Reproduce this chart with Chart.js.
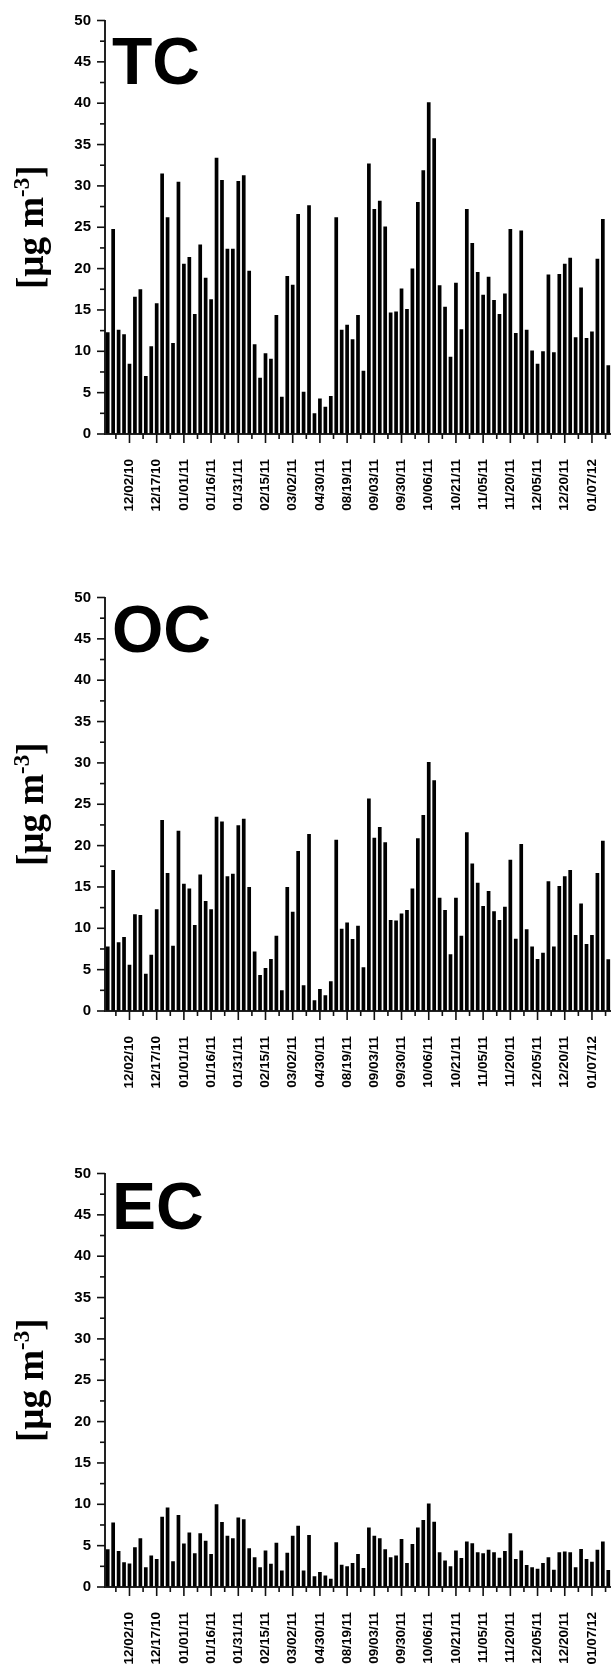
<!DOCTYPE html>
<html><head><meta charset="utf-8">
<script src="https://cdn.jsdelivr.net/npm/chart.js@4.4.0/dist/chart.umd.min.js"></script>
<style>
html,body{margin:0;padding:0;background:#fff;width:611px;height:1668px;overflow:hidden;position:relative;}
canvas{position:absolute;left:0;}
</style></head><body>
<canvas id="c0" width="611" height="577" style="top:0px"></canvas>
<canvas id="c1" width="611" height="577" style="top:577px"></canvas>
<canvas id="c2" width="611" height="515" style="top:1153px"></canvas>
<script>
// x tick labels (every 5th sample)
const tickLabels = ['12/02/10','12/17/10','01/01/11','01/16/11','01/31/11','02/15/11','03/02/11','04/30/11','08/19/11','09/03/11','09/30/11','10/06/11','10/21/11','11/05/11','11/20/11','12/05/11','12/20/11','01/07/12'];

const tcValues = [12.3,24.8,12.6,12.05,8.5,16.6,17.5,7.0,10.6,15.8,31.5,26.2,11.0,30.5,20.6,21.4,14.5,22.9,18.9,16.3,33.4,30.7,22.4,22.4,30.6,31.3,19.75,10.85,6.8,9.75,9.1,14.4,4.5,19.1,18.05,26.6,5.1,27.65,2.5,4.3,3.3,4.6,26.2,12.6,13.2,11.45,14.4,7.66,32.7,27.2,28.2,25.1,14.7,14.8,17.6,15.1,20.0,28.05,31.9,40.1,35.75,18.0,15.4,9.35,18.3,12.66,27.2,23.1,19.6,16.85,19.0,16.2,14.5,17.0,24.8,12.2,24.6,12.6,10.1,8.5,10.0,19.3,9.9,19.35,20.6,21.3,11.7,17.7,11.6,12.4,21.2,26.0,8.3];

const ocValues = [7.8,17.05,8.3,8.95,5.6,11.7,11.6,4.5,6.8,12.3,23.1,16.7,7.9,21.8,15.4,14.8,10.4,16.5,13.3,12.3,23.5,22.9,16.3,16.6,22.45,23.25,15.0,7.2,4.35,5.2,6.3,9.1,2.5,15.0,12.0,19.35,3.1,21.4,1.3,2.66,1.9,3.6,20.7,9.95,10.7,8.7,10.3,5.3,25.7,20.96,22.25,20.4,11.0,10.95,11.8,12.2,14.8,20.9,23.7,30.1,27.9,13.7,12.2,6.85,13.7,9.1,21.6,17.85,15.5,12.7,14.5,12.05,11.0,12.6,18.3,8.75,20.2,9.9,7.8,6.3,7.05,15.7,7.8,15.1,16.3,17.05,9.2,13.0,8.1,9.2,16.7,20.6,6.25];

const ecValues = [4.55,7.8,4.35,3.0,2.85,4.8,5.9,2.4,3.8,3.4,8.5,9.6,3.1,8.7,5.25,6.6,4.07,6.5,5.6,4.0,10.0,7.86,6.2,5.9,8.4,8.2,4.7,3.6,2.4,4.4,2.8,5.36,2.0,4.15,6.2,7.4,2.0,6.3,1.3,1.8,1.4,1.0,5.4,2.7,2.5,2.9,4.0,2.3,7.2,6.2,5.9,4.55,3.6,3.8,5.8,2.9,5.2,7.2,8.1,10.1,7.9,4.2,3.2,2.5,4.4,3.5,5.5,5.3,4.2,4.07,4.5,4.2,3.55,4.35,6.5,3.4,4.4,2.66,2.4,2.2,2.9,3.6,2.1,4.2,4.3,4.2,2.4,4.6,3.4,3.06,4.5,5.5,2.06];

const panelNames = ['TC','OC','EC'];
const yTitleMain = '[µg m';
const yTitleSup = '-3';
const yTitleEnd = ']';

const SANS = '"Liberation Sans", Arial, sans-serif';
const SERIF = '"Liberation Serif", "Times New Roman", serif';

const decor = {
  id: 'decor',
  afterDraw(chart, args, opts) {
    const ctx = chart.ctx, xs = chart.scales.x, ys = chart.scales.y, a = chart.chartArea;
    ctx.save();
    ctx.strokeStyle = '#111';
    ctx.lineWidth = 1.6;
    xs.ticks.forEach(t => {
      const px = xs.getPixelForValue(t.value);
      const len = (t.value % 5 === 0) ? 9 : 5;
      ctx.beginPath(); ctx.moveTo(px, a.bottom); ctx.lineTo(px, a.bottom + len); ctx.stroke();
    });
    ys.ticks.forEach(t => {
      const py = ys.getPixelForValue(t.value);
      const len = (t.value % 5 === 0) ? 8 : 5;
      ctx.beginPath(); ctx.moveTo(a.left, py); ctx.lineTo(a.left - len, py); ctx.stroke();
    });
    // panel name
    ctx.fillStyle = '#000';
    ctx.font = 'bold 66px ' + SANS;
    ctx.textAlign = 'left';
    ctx.textBaseline = 'alphabetic';
    ctx.fillText(opts.name, a.left + 7, a.top + opts.nameDy);
    // y title with superscript
    ctx.translate(32, (a.top + a.bottom) / 2);
    ctx.rotate(-Math.PI / 2);
    const big = 'bold 37px ' + SERIF, small = 'bold 23px ' + SERIF;
    ctx.font = big; const w1 = ctx.measureText(yTitleMain).width; const w3 = ctx.measureText(yTitleEnd).width;
    ctx.font = small; const w2 = ctx.measureText(yTitleSup).width;
    let x0 = -(w1 + w2 + w3) / 2;
    const base = 11;
    ctx.font = big; ctx.fillText(yTitleMain, x0, base);
    ctx.font = small; ctx.fillText(yTitleSup, x0 + w1, base - 14);
    ctx.font = big; ctx.fillText(yTitleEnd, x0 + w1 + w2, base);
    ctx.restore();
  }
};

function makeChart(id, name, values, nameDy) {
  const canvas = document.getElementById(id);
  const H = canvas.height;
  return new Chart(canvas, {
    type: 'bar',
    data: { datasets: [{ data: values.map((v, i) => ({ x: i + 1, y: v })), backgroundColor: '#000', borderWidth: 0, barPercentage: 0.68, categoryPercentage: 1 }] },
    options: {
      responsive: false, animation: false, devicePixelRatio: 1,
      layout: { padding: { top: 20.5, left: 0, right: 0, bottom: 0 } },
      plugins: { legend: { display: false }, tooltip: { enabled: false }, decor: { name: name, nameDy: nameDy } },
      scales: {
        x: {
          type: 'linear', min: 0.5, max: 93.5, offset: false,
          grid: { display: true, offset: false, drawOnChartArea: false, drawTicks: false },
          border: { display: true, color: '#222', width: 2 },
          ticks: {
            stepSize: 2.5, includeBounds: false, autoSkip: false, minRotation: 90, maxRotation: 90, padding: 25,
            color: '#000', font: { family: SANS, size: 13.5, weight: 'bold' },
            callback: v => (v % 5 === 0 ? tickLabels[v / 5 - 1] : '')
          },
          afterFit: s => { s.height = H - 434; s.paddingLeft = 0; s.paddingRight = 0; }
        },
        y: {
          type: 'linear', min: 0, max: 50,
          grid: { display: true, drawOnChartArea: false, drawTicks: false },
          border: { display: true, color: '#222', width: 2 },
          ticks: {
            stepSize: 2.5, autoSkip: false, padding: 14, color: '#000',
            font: { family: SANS, size: 15, weight: 'bold' },
            callback: v => (v % 5 === 0 ? String(v) : '')
          },
          afterFit: s => { s.width = 105; s.paddingTop = 0; s.paddingBottom = 0; }
        }
      }
    },
    plugins: [decor]
  });
}

makeChart('c0', panelNames[0], tcValues, 63);
makeChart('c1', panelNames[1], ocValues, 54);
makeChart('c2', panelNames[2], ecValues, 55.5);
</script>
</body></html>
